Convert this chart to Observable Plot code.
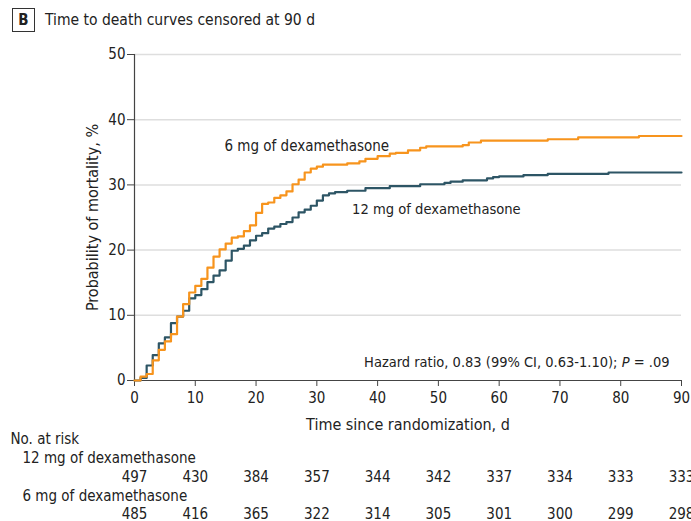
<!DOCTYPE html>
<html>
<head>
<meta charset="utf-8">
<script src="https://cdn.jsdelivr.net/npm/d3@7"></script>
<script src="https://cdn.jsdelivr.net/npm/@observablehq/plot@0.6"></script>
<style>
  html, body { margin: 0; padding: 0; background: #fff; overflow: hidden; }
  body { width: 691px; height: 521px; font-family: "Liberation Sans Narrow", "DejaVu Sans Condensed", sans-serif; color: #222; }
  #title { height: 36px; position: relative; }
  #title .b { position: absolute; left: 12px; top: 8px; width: 23px; height: 24px; border: 1px solid #333; box-sizing: border-box;
    font: bold 15px "Liberation Sans Narrow", "DejaVu Sans Condensed", sans-serif; text-align: center; line-height: 22px; }
  #title .t { position: absolute; left: 45px; top: 9px; font-size: 15.5px; line-height: 22px; }
</style>
</head>
<body>
<div id="title"><div class="b">B</div><div class="t">Time to death curves censored at 90 d</div></div>
<div id="chart"></div>
<script>
const days12 = [0,1,2,3,4,5,6,7,8,9,10,11,12,13,14,15,16,17,18,19,20,21,22,23,24,25,26,27,28,29,30,31,32,33,35,38,42,47,51,52,54,58,59,60,64,68,78,90];
const mort12 = [0,0.4,2.3,3.9,5.7,6.6,8.8,9.8,10.7,12.6,13.1,14.0,15.1,16.1,16.9,18.4,19.9,20.2,20.7,21.5,22.2,22.6,23.3,23.6,24.0,24.3,25.0,25.8,26.2,26.8,27.6,28.4,28.7,28.9,29.1,29.5,29.8,30.1,30.3,30.5,30.7,31.0,31.2,31.3,31.5,31.7,31.9,31.9];
const days6 = [0,1,2,3,4,5,6,7,8,9,10,11,12,13,14,15,16,17,18,19,20,21,22,23,24,25,26,27,28,29,30,31,35,37,38,40,42,43,45,47,48,54,55,57,68,73,83,90];
const mort6 = [0,0.6,1.0,3.1,4.7,6.0,7.1,9.8,11.7,13.5,14.5,15.6,17.3,19.0,20.1,21.0,21.9,22.1,22.9,23.8,25.7,27.1,27.3,28.0,28.4,29.0,30.1,30.8,31.9,32.5,32.8,33.1,33.3,33.6,34.0,34.4,34.8,34.9,35.3,35.7,35.9,36.1,36.5,36.8,37.0,37.3,37.5,37.5];
const xTicks = [0,10,20,30,40,50,60,70,80,90];
const yTicks = [0,10,20,30,40,50];
const risk12 = [497,430,384,357,344,342,337,334,333,333];
const risk6 = [485,416,365,322,314,305,301,300,299,298];
const groupNames = ["12 mg of dexamethasone", "6 mg of dexamethasone"];
const colors = ["#2d5565", "#f7941d"];

const curve12 = days12.map((d, i) => ({day: d, mort: mort12[i]}));
const curve6 = days6.map((d, i) => ({day: d, mort: mort6[i]}));
const riskRows12 = xTicks.map((d, i) => ({day: d, n: risk12[i]}));
const riskRows6 = xTicks.map((d, i) => ({day: d, n: risk6[i]}));

const FONT = "Liberation Sans Narrow, DejaVu Sans Condensed, sans-serif";
const ink = "#222";

const plot = Plot.plot({
  width: 691,
  height: 485,
  marginTop: 18,
  marginBottom: 141,
  marginLeft: 134,
  marginRight: 10,
  style: {fontFamily: FONT, fontSize: "15px", color: ink, background: "#fff", overflow: "visible"},
  x: {domain: [0, 90]},
  y: {domain: [0, 50]},
  marks: [
    Plot.gridY(yTicks.filter(d => d > 0), {stroke: "#dedede", strokeOpacity: 1, strokeWidth: 1.5}),
    Plot.axisY(yTicks, {tickSize: 7, tickPadding: 2, label: null, fontSize: 15, stroke: "#444"}),
    Plot.axisX(xTicks, {tickSize: 6, tickPadding: 6, label: null, fontSize: 15, stroke: "#444"}),
    Plot.ruleY([0], {stroke: "#444", strokeWidth: 1.2}),
    Plot.ruleX([0], {stroke: "#444", strokeWidth: 1.2}),
    Plot.line(curve12, {x: "day", y: "mort", curve: "step-after", stroke: colors[0], strokeWidth: 2.2}),
    Plot.line(curve6, {x: "day", y: "mort", curve: "step-after", stroke: colors[1], strokeWidth: 2.2}),
    Plot.text(["6 mg of dexamethasone"], {x: 14.8, y: 36.0, text: d => d, textAnchor: "start", fontSize: 15, fill: ink}),
    Plot.text(["12 mg of dexamethasone"], {x: 35.8, y: 26.3, text: d => d, textAnchor: "start", fontSize: 14.6, fill: ink}),
    Plot.text(["Hazard ratio, 0.83 (99% CI, 0.63-1.10); P = .09"], {frameAnchor: "bottom-right", dx: -12, dy: -14, text: d => d, textAnchor: "end", fontSize: 14.5, fill: ink}),
    Plot.text(["Probability of mortality, %"], {frameAnchor: "left", dx: -42, rotate: -90, textAnchor: "middle", text: d => d, fontSize: 16, fill: ink}),
    Plot.text(["Time since randomization, d"], {frameAnchor: "bottom", dy: 49, text: d => d, fontSize: 16, fill: ink}),
    Plot.text(["No. at risk"], {frameAnchor: "bottom-left", dx: -124, dy: 63, text: d => d, textAnchor: "start", fontSize: 15, fill: ink}),
    Plot.text([groupNames[0]], {frameAnchor: "bottom-left", dx: -112, dy: 82, text: d => d, textAnchor: "start", fontSize: 15, fill: ink}),
    Plot.text(riskRows12, {x: "day", frameAnchor: "bottom", dy: 101, text: "n", fontSize: 15, fill: ink}),
    Plot.text([groupNames[1]], {frameAnchor: "bottom-left", dx: -112, dy: 120, text: d => d, textAnchor: "start", fontSize: 15, fill: ink}),
    Plot.text(riskRows6, {x: "day", frameAnchor: "bottom", dy: 138, text: "n", fontSize: 15, fill: ink})
  ]
});

// italic P in hazard ratio annotation
d3.select(plot).selectAll("text").filter(function() { return this.textContent.startsWith("Hazard ratio"); })
  .each(function() {
    const t = d3.select(this);
    t.text(null);
    t.append("tspan").text("Hazard ratio, 0.83 (99% CI, 0.63-1.10); ");
    t.append("tspan").attr("font-style", "italic").text("P");
    t.append("tspan").text(" = .09");
  });

document.getElementById("chart").appendChild(plot);
</script>
</body>
</html>
